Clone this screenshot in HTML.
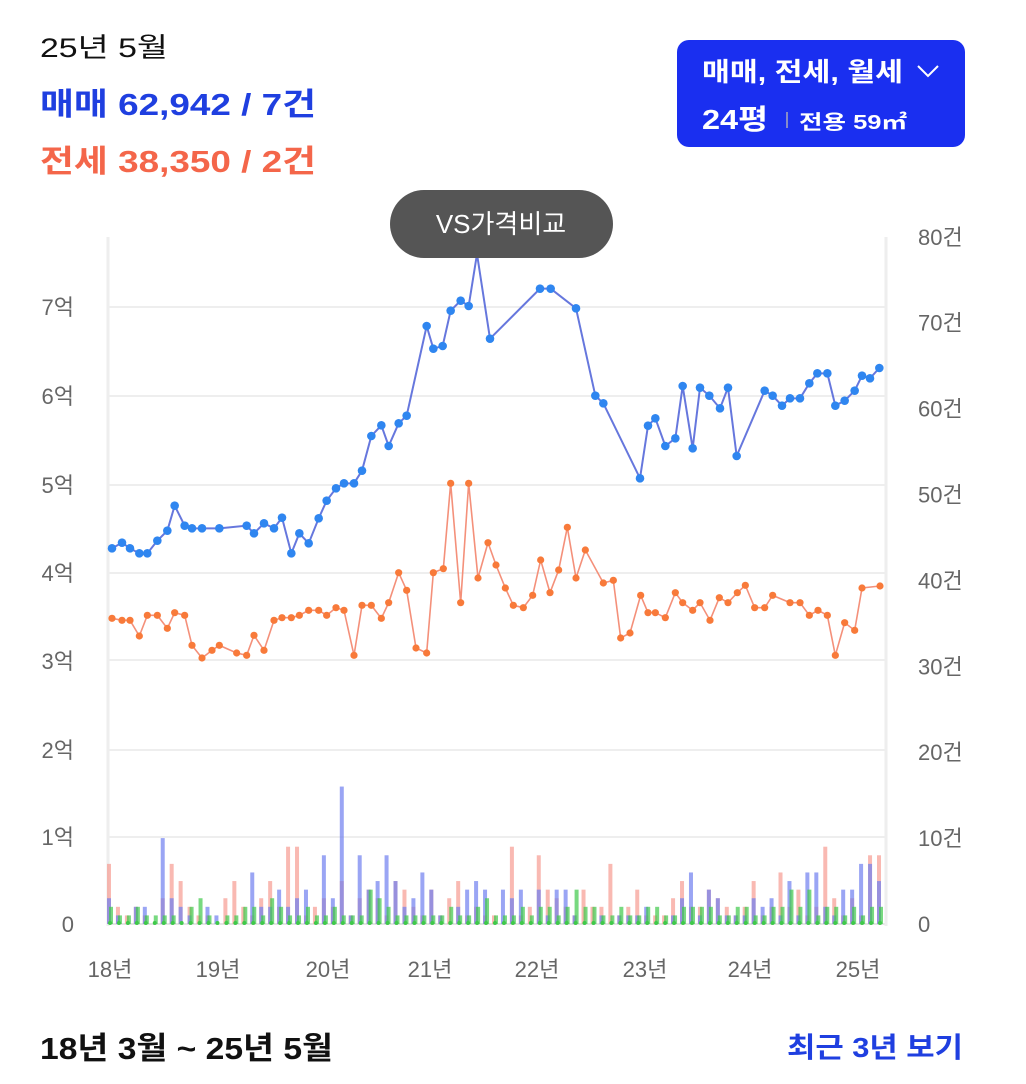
<!DOCTYPE html>
<html><head><meta charset="utf-8"><style>
html,body{margin:0;padding:0;background:#fff;width:1026px;height:1084px;overflow:hidden}
svg text{font-family:"Liberation Sans","Noto Sans CJK KR",sans-serif}
</style></head><body>
<svg id="s" width="1026" height="1084" xmlns="http://www.w3.org/2000/svg">
<text x="40" y="57" font-size="27" fill="#111" textLength="128" lengthAdjust="spacingAndGlyphs">25년 5월</text>
<text x="40" y="115" font-size="31" font-weight="bold" fill="#1f3fe0" textLength="276" lengthAdjust="spacingAndGlyphs">매매 62,942 / 7건</text>
<text x="40" y="172" font-size="31" font-weight="bold" fill="#f4664a" textLength="276" lengthAdjust="spacingAndGlyphs">전세 38,350 / 2건</text>
<rect x="677" y="40" width="288" height="107" rx="12" fill="#1a2ff0"/>
<text x="702" y="81" font-size="26" font-weight="bold" fill="#fff" textLength="201" lengthAdjust="spacingAndGlyphs">매매, 전세, 월세</text>
<polyline points="918,66 928,76 938,66" fill="none" stroke="#fff" stroke-width="2"/>
<text x="702" y="129" font-size="28" font-weight="bold" fill="#fff" textLength="66" lengthAdjust="spacingAndGlyphs">24평</text>
<line x1="787" y1="112" x2="787" y2="128" stroke="#aab" stroke-width="1.5"/>
<text x="799" y="129" font-size="20" font-weight="bold" fill="#fff" textLength="108" lengthAdjust="spacingAndGlyphs">전용 59㎡</text>
<g id="grid" stroke="#eeeeee" stroke-width="2"></g>
<line x1="108" y1="237" x2="108" y2="926" stroke="#eee" stroke-width="3"/>
<line x1="886" y1="237" x2="886" y2="926" stroke="#eee" stroke-width="3"/>
<g id="bars"></g>
<g id="lines"></g>
<g font-size="22" fill="#666" id="labels"></g>
<rect x="390" y="190" width="223" height="68" rx="34" fill="#555"/>
<text x="501" y="233" font-size="26" fill="#fff" text-anchor="middle">VS가격비교</text>
<text x="40" y="1059" font-size="31" font-weight="bold" fill="#111" textLength="293" lengthAdjust="spacingAndGlyphs">18년 3월 ~ 25년 5월</text>
<text x="787" y="1057" font-size="28" font-weight="bold" fill="#1f3fe0" textLength="176" lengthAdjust="spacingAndGlyphs">최근 3년 보기</text>
</svg>
<script>
const NS="http://www.w3.org/2000/svg";
function el(p,t,a,txt){const e=document.createElementNS(NS,t);for(const k in a)e.setAttribute(k,a[k]);if(txt!=null)e.textContent=txt;document.getElementById(p).appendChild(e);return e;}
[307,396,485,573,660,750,837].forEach(y=>el("grid","line",{x1:108,x2:886,y1:y,y2:y}));
el("grid","line",{x1:108,x2:886,y1:924,y2:924,stroke:"#e4e4e4"});
[["7억",307],["6억",396],["5억",485],["4억",573],["3억",661],["2억",750],["1억",837],["0",924]].forEach(([t,y])=>el("labels","text",{x:74,y:y+8,"text-anchor":"end"},t));
for(let i=0;i<=8;i++){const y=924-i*85.9;el("labels","text",{x:918,y:y+8},i==0?"0":(i*10)+"건");}
[["18년",110],["19년",218],["20년",328],["21년",430],["22년",537],["23년",645],["24년",750],["25년",858]].forEach(([t,x])=>el("labels","text",{x:x,y:977,"text-anchor":"middle"},t));
const B=[3,1,0,2,2,0,10,3,2,1,0,2,1,0,0,0,6,2,2,4,2,3,4,0,8,3,16,1,8,4,5,8,5,2,3,6,4,1,0,2,4,5,4,0,4,3,4,0,4,1,4,4,1,0,0,1,0,1,1,1,2,0,0,1,3,6,1,4,3,1,1,1,3,2,3,1,5,1,6,6,2,1,4,4,7,7,5,7];
const R=[7,2,1,2,1,0,3,7,5,2,1,1,0,3,5,2,1,3,5,2,9,9,1,2,3,2,5,1,3,4,3,1,5,4,2,1,4,1,3,5,1,2,1,1,0,9,1,2,8,4,3,2,1,4,2,2,7,1,2,4,1,1,1,3,5,2,2,4,3,2,1,2,5,1,2,6,2,4,1,2,9,3,1,3,1,8,8,3];
const G=[2,1,1,2,1,1,1,1,0,2,3,1,0,1,1,2,2,1,3,2,1,1,2,1,1,2,1,1,1,4,3,2,1,1,1,1,1,1,2,1,1,2,3,1,1,1,2,1,2,2,1,2,4,2,2,1,1,2,1,1,2,2,1,1,2,2,2,2,1,1,2,2,1,1,2,2,4,2,4,1,2,2,1,2,1,2,2,2];
const dx=(880-110)/86;
for(let i=0;i<87;i++){const x=110+i*dx;
 [[R[i],"#f79b91",-3],[B[i],"#6f7ff0",-3],[G[i],"#3fc94a",-1]].forEach(([v,c,o])=>{if(v>0)el("bars","rect",{x:x+o,y:924-v*8.59,width:4,height:v*8.59,fill:c,opacity:.7});});
 el("bars","circle",{cx:x,cy:923,r:2,fill:"#3fc94a"});}
function pts(a,ox,oy){return a.map(p=>[ox+p[0]/3,oy+p[1]/3]);}
const b1=pts([[36,925],[66,908],[90,925],[118,940],[142,940],[172,902],[202,872],[224,797],[254,857],[276,865],[306,865],[358,865],[440,857],[462,880],[492,850],[522,865],[546,833],[574,940],[598,880],[626,910],[656,835],[680,782],[708,745],[732,730],[762,730],[786,692],[814,588],[844,556],[866,618],[896,550],[920,527],[980,258],[1000,326],[1028,318],[1052,212],[1082,182],[1106,198]],100,240);
b1.push([477,254]);
const b2=pts([[0,296],[150,146],[182,146],[258,205],[316,467],[340,490],[450,715],[474,557],[496,535],[526,618],[556,595],[578,438],[608,625],[630,443],[658,467],[690,505],[714,443],[740,648],[824,452],[848,467],[876,497],[900,475],[930,475],[958,430],[982,400],[1012,400],[1036,497],[1064,482],[1094,452],[1116,407],[1140,415],[1168,384]],490,240);
const blue=b1.concat(b2);
const o1=pts([[36,1135],[66,1141],[90,1141],[118,1188],[142,1126],[172,1126],[202,1165],[224,1118],[254,1126],[276,1216],[306,1254],[336,1231],[358,1216],[410,1239],[440,1246],[462,1186],[492,1231],[522,1141],[546,1133],[574,1133],[598,1126],[626,1111],[656,1111],[680,1126],[708,1103],[732,1111],[762,1246],[786,1096],[814,1096],[844,1135],[866,1088],[896,998],[920,1051],[948,1224],[980,1239],[1000,998],[1030,986],[1052,730],[1082,1088],[1106,730],[1134,1014],[1164,908],[1188,975]],100,240);
const o2=pts([[46,1044],[70,1096],[100,1103],[128,1066],[152,960],[180,1058],[206,990],[232,862],[258,1014],[286,930],[340,1029],[370,1021],[392,1194],[420,1179],[452,1066],[474,1118],[496,1118],[526,1133],[556,1058],[578,1088],[608,1111],[630,1088],[660,1141],[688,1073],[714,1088],[742,1058],[766,1036],[794,1103],[824,1103],[848,1066],[900,1088],[930,1088],[958,1126],[984,1111],[1012,1126],[1036,1246],[1064,1148],[1094,1171],[1116,1044],[1170,1038]],490,240);
const orange=o1.concat(o2);
function draw(a,lc,dc,r,w){el("lines","polyline",{points:a.map(p=>p.join(",")).join(" "),fill:"none",stroke:lc,"stroke-width":w});a.forEach((p,i)=>{if(!(a===blue&&i==37))el("lines","circle",{cx:p[0],cy:p[1],r:r,fill:dc});});}
draw(orange,"#f4907a","#f87a3a",3.6,1.6);
draw(blue,"#6677dd","#2f86f0",4.3,2);
</script>
</body></html>
